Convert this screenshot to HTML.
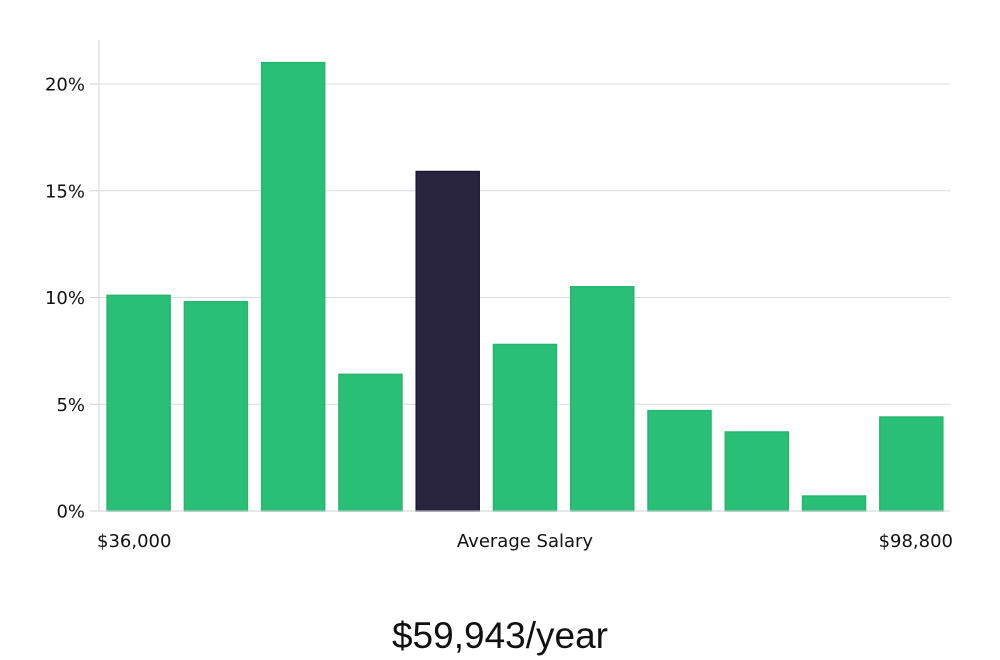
<!DOCTYPE html>
<html><head><meta charset="utf-8">
<style>
html,body{margin:0;padding:0;background:#fff;width:1000px;height:660px;overflow:hidden}
svg{display:block;font-family:"DejaVu Sans","Liberation Sans",sans-serif}
</style></head>
<body>
<svg id="chart" width="1000" height="660" viewBox="0 0 1000 660"></svg>
<script>
const categories = ["b1","b2","b3","b4","b5","b6","b7","b8","b9","b10","b11"];
const values = [10.1, 9.8, 21.0, 6.4, 15.9, 7.8, 10.5, 4.7, 3.7, 0.7, 4.4];
const highlightIndex = [4];
const yTicks = [0, 5, 10, 15, 20];
const yTickLabels = ["0%", "5%", "10%", "15%", "20%"];

const NS = "http://www.w3.org/2000/svg";
const svg = document.getElementById("chart");
const plotL = 99, plotR = 950, plotTop = 40, y0 = 511, pxPerUnit = 21.35;
const bandStart = 100, pitch = 77.27, barW = 63;
function yScale(v){ return y0 - v * pxPerUnit; }
function xScale(i){ return bandStart + i * pitch + (pitch - barW) / 2; }
function mk(tag, attrs){ const e = document.createElementNS(NS, tag); for (const k in attrs) e.setAttribute(k, attrs[k]); svg.appendChild(e); return e; }

const yAxis = mk("line", {x1:plotL, x2:plotL, y1:plotTop, y2:y0, stroke:"#d6d6d6", "stroke-width":1});



yTicks.forEach((t, i) => {
  const y = yScale(t);
  const g = mk("line", {x1:plotL, x2:plotR, y1:y, y2:y, stroke:"#dcdcdc", "stroke-width":1});
  
  
  const tk = mk("line", {x1:90, x2:plotL, y1:y, y2:y, stroke:"#cfcfcf", "stroke-width":1});
  
  
  const tx = mk("text", {x:85, y:y + 6.5, "text-anchor":"end", "font-size":18, fill:"#111"});
  tx.textContent = yTickLabels[i];
  
  
});

values.forEach((v, i) => {
  const hi = highlightIndex.includes(i);
  const r = mk("rect", {x:xScale(i), y:yScale(v), width:barW, height:y0 - yScale(v),
    fill: hi ? "#28243f" : "#2abf77", stroke: hi ? "#1c1836" : "#25b56e", "stroke-width":1.5});
  
  
});

const base = mk("line", {x1:plotL, x2:plotR, y1:y0, y2:y0, stroke:"#d0d0d0", "stroke-width":1});



const l1 = mk("text", {x:97, y:547, "font-size":18, fill:"#111"});
l1.textContent = "$36,000";


const l2 = mk("text", {x:525, y:547, "text-anchor":"middle", "font-size":18, fill:"#111"});
l2.textContent = "Average Salary";


const l3 = mk("text", {x:953, y:547, "text-anchor":"end", "font-size":18, fill:"#111"});
l3.textContent = "$98,800";


const big = mk("text", {x:500, y:648, "text-anchor":"middle", "font-size":37, fill:"#111", "font-family":"Liberation Sans, sans-serif"});
big.textContent = "$59,943/year";


</script>
</body></html>
